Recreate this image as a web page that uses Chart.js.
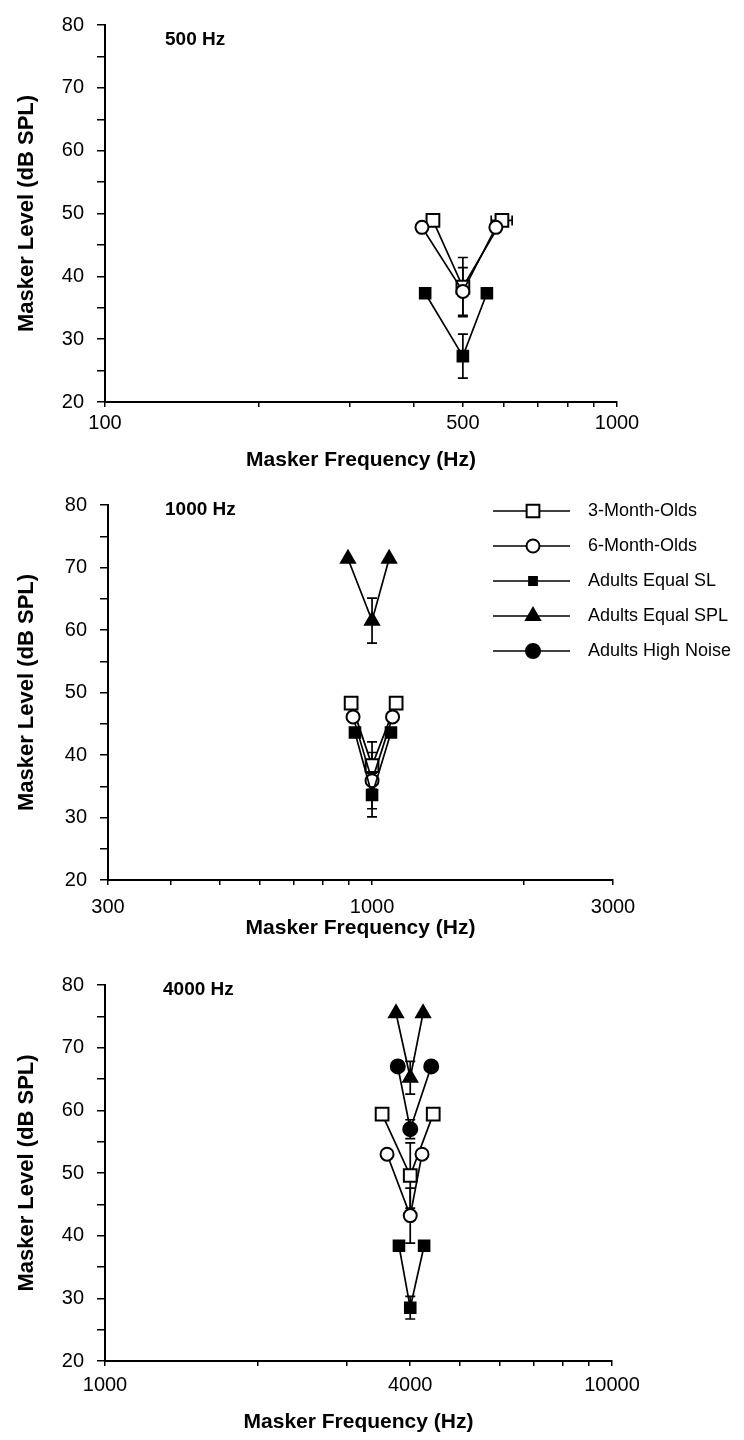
<!DOCTYPE html>
<html>
<head>
<meta charset="utf-8">
<title>Masker level vs masker frequency</title>
<script src="https://cdn.jsdelivr.net/npm/chart.js@4.4.1/dist/chart.umd.min.js"></script>
<style>
  body { margin: 0; background: #fff; }
  .panel { position: absolute; left: 0; width: 744px; height: 480px; }
</style>
</head>
<body>
<div class="panel" style="top:0px"><canvas id="p500" width="744" height="480"></canvas></div>
<div class="panel" style="top:480px"><canvas id="p1000" width="744" height="480"></canvas></div>
<div class="panel" style="top:960px"><canvas id="p4000" width="744" height="480"></canvas></div>
<script>
// series names (legend order)
const seriesNames = ['3-Month-Olds', '6-Month-Olds', 'Adults Equal SL', 'Adults Equal SPL', 'Adults High Noise'];

// y axis ticks, shared by all panels
const levelTicks = [20, 25, 30, 35, 40, 45, 50, 55, 60, 65, 70, 75, 80];
const levelLabels = [20, 30, 40, 50, 60, 70, 80];

// 500 Hz probe
const f500Ticks = [100, 200, 300, 400, 500, 600, 700, 800, 900, 1000];
const f500Labels = [100, 500, 1000];
const f500Infant3Freq = [437, 500, 596];
const f500Infant3Level = [48.9, 38.3, 48.9];
const f500Infant3Err = [0, 4.7, 0];
const f500Infant3FreqErr = [0, 0, 28];
const f500Infant6Freq = [416, 500, 580];
const f500Infant6Level = [47.8, 37.6, 47.8];
const f500Infant6Err = [0, 3.8, 0];
const f500AdultSLFreq = [422, 500, 557];
const f500AdultSLLevel = [37.3, 27.3, 37.3];
const f500AdultSLErr = [0, 3.5, 0];

// 1000 Hz probe
const f1000Ticks = [300, 400, 500, 600, 700, 800, 900, 1000, 2000, 3000];
const f1000Labels = [300, 1000, 3000];
const f1000Infant3Freq = [909, 1000, 1116];
const f1000Infant3Level = [48.3, 38.3, 48.3];
const f1000Infant3Err = [0, 3.8, 0];
const f1000Infant6Freq = [917, 1000, 1098];
const f1000Infant6Level = [46.1, 35.9, 46.1];
const f1000Infant6Err = [0, 4.5, 0];
const f1000AdultSLFreq = [925, 1000, 1090];
const f1000AdultSLLevel = [43.6, 33.6, 43.6];
const f1000AdultSLErr = [0, 3.5, 0];
const f1000AdultSPLFreq = [896, 1000, 1081];
const f1000AdultSPLLevel = [71.4, 61.5, 71.4];
const f1000AdultSPLErr = [0, 3.6, 0];

// 4000 Hz probe
const f4000Ticks = [1000, 2000, 3000, 4000, 5000, 6000, 7000, 8000, 9000, 10000];
const f4000Labels = [1000, 4000, 10000];
const f4000Infant3Freq = [3520, 4000, 4440];
const f4000Infant3Level = [59.4, 49.6, 59.4];
const f4000Infant3Err = [0, 5.2, 0];
const f4000Infant6Freq = [3600, 4000, 4220];
const f4000Infant6Level = [53.0, 43.2, 53.0];
const f4000Infant6Err = [0, 4.4, 0];
const f4000AdultSLFreq = [3800, 4000, 4260];
const f4000AdultSLLevel = [38.4, 28.5, 38.4];
const f4000AdultSLErr = [0, 1.8, 0];
const f4000AdultSPLFreq = [3750, 4000, 4240];
const f4000AdultSPLLevel = [75.5, 65.2, 75.5];
const f4000AdultSPLErr = [0, 2.6, 0];
const f4000AdultHNFreq = [3780, 4000, 4400];
const f4000AdultHNLevel = [67.0, 57.0, 67.0];
const f4000AdultHNErr = [0, 1.5, 0];

const FONT = '"Liberation Sans", Arial, Helvetica, sans-serif';

// marker look per series
const markerStyles = [
  { pointStyle: 'rect', radius: 9, fill: '#fff' },     // 3 month
  { pointStyle: 'circle', radius: 6.5, fill: '#fff' }, // 6 month
  { pointStyle: 'rect', radius: 7.5, fill: '#000' },   // adults SL
  { pointStyle: 'triangle', radius: 8, fill: '#000' }, // adults SPL
  { pointStyle: 'circle', radius: 7, fill: '#000' }    // adults high noise
];

function makeSet(idx, freqs, levels, errs, freqErrs) {
  const m = markerStyles[idx];
  return {
    label: seriesNames[idx],
    data: freqs.map((f, i) => ({ x: f, y: levels[i] })),
    errors: errs,
    freqErrors: freqErrs || [],
    borderColor: '#000',
    borderWidth: 1.7,
    pointStyle: m.pointStyle,
    pointRadius: m.radius,
    pointBackgroundColor: m.fill,
    pointBorderColor: '#000',
    pointBorderWidth: 2,
    tension: 0
  };
}

// error bars (vertical, plus the odd horizontal one), drawn under the markers
const errorBars = {
  id: 'errorBars',
  beforeDatasetsDraw(chart) {
    const ctx = chart.ctx;
    const x = chart.scales.x, y = chart.scales.y;
    ctx.save();
    ctx.strokeStyle = '#000';
    ctx.lineWidth = 1.7;
    chart.data.datasets.forEach(ds => {
      ds.data.forEach((p, i) => {
        const px = x.getPixelForValue(p.x);
        const py = y.getPixelForValue(p.y);
        const e = ds.errors[i];
        if (e) {
          const top = y.getPixelForValue(p.y + e);
          const bot = y.getPixelForValue(p.y - e);
          ctx.beginPath();
          ctx.moveTo(px, top); ctx.lineTo(px, bot);
          ctx.moveTo(px - 5, top); ctx.lineTo(px + 5, top);
          ctx.moveTo(px - 5, bot); ctx.lineTo(px + 5, bot);
          ctx.stroke();
        }
        const fe = ds.freqErrors[i];
        if (fe) {
          const lo = x.getPixelForValue(p.x - fe);
          const hi = x.getPixelForValue(p.x + fe);
          ctx.beginPath();
          ctx.moveTo(lo, py); ctx.lineTo(hi, py);
          ctx.moveTo(lo, py - 5); ctx.lineTo(lo, py + 5);
          ctx.moveTo(hi, py - 5); ctx.lineTo(hi, py + 5);
          ctx.stroke();
        }
      });
    });
    ctx.restore();
  }
};

// panel label, axis titles and the legend box
const decorations = {
  id: 'decorations',
  afterDraw(chart, args, opts) {
    const ctx = chart.ctx;
    const area = chart.chartArea;
    ctx.save();
    ctx.fillStyle = '#000';
    ctx.font = 'bold 19px ' + FONT;
    ctx.textAlign = 'left';
    ctx.textBaseline = 'middle';
    ctx.fillText(opts.label, opts.labelX, opts.labelY);

    ctx.font = 'bold 21px ' + FONT;
    ctx.textAlign = 'center';
    ctx.fillText('Masker Frequency (Hz)', (area.left + area.right) / 2, opts.xTitleY);

    ctx.font = 'bold 22px ' + FONT;
    ctx.translate(opts.yTitleX, (area.top + area.bottom) / 2);
    ctx.rotate(-Math.PI / 2);
    ctx.fillText('Masker Level (dB SPL)', 0, 0);
    ctx.restore();

    if (opts.legend) {
      ctx.save();
      ctx.font = '18px ' + FONT;
      ctx.textBaseline = 'middle';
      ctx.textAlign = 'left';
      seriesNames.forEach((name, i) => {
        const yy = opts.legend.y + i * opts.legend.gap;
        const m = markerStyles[i];
        ctx.strokeStyle = '#000';
        ctx.lineWidth = 1.7;
        ctx.beginPath();
        ctx.moveTo(opts.legend.x, yy);
        ctx.lineTo(opts.legend.x + 77, yy);
        ctx.stroke();
        ctx.fillStyle = m.fill;
        ctx.lineWidth = 2;
        const r = m.pointStyle === 'rect' && m.fill === '#000' ? 5.5 : m.radius;
        Chart.helpers.drawPoint(ctx, { pointStyle: m.pointStyle, radius: r, rotation: 0, borderWidth: 2 }, opts.legend.x + 40, yy);
        ctx.fillStyle = '#000';
        ctx.fillText(name, opts.legend.x + 95, yy);
      });
      ctx.restore();
    }
  }
};

function makeChart(id, p) {
  return new Chart(document.getElementById(id), {
    type: 'line',
    data: { datasets: p.datasets },
    options: {
      responsive: false,
      animation: false,
      layout: { padding: { left: 0, right: 744 - p.right, top: p.top, bottom: 0 } },
      scales: {
        x: {
          type: 'logarithmic',
          min: p.xTicks[0],
          max: p.xTicks[p.xTicks.length - 1],
          afterBuildTicks: s => { s.ticks = p.xTicks.map(v => ({ value: v })); },
          afterFit: s => { s.height = 480 - p.bottom; },
          ticks: {
            autoSkip: false, maxRotation: 0, color: '#000', padding: p.xPad,
            font: { family: FONT, size: 20 },
            callback: v => p.xLabels.includes(v) ? String(v) : ''
          },
          grid: { drawOnChartArea: false, tickLength: 5, color: '#000', lineWidth: 1.5 },
          border: { color: '#000', width: 2 }
        },
        y: {
          min: 20, max: 80,
          afterBuildTicks: s => { s.ticks = levelTicks.map(v => ({ value: v })); },
          afterFit: s => { s.width = p.left; },
          ticks: {
            color: '#000', padding: 13,
            font: { family: FONT, size: 20 },
            callback: v => levelLabels.includes(v) ? String(v) : ''
          },
          grid: { drawOnChartArea: false, tickLength: 8, color: '#000', lineWidth: 1.5 },
          border: { color: '#000', width: 2 }
        }
      },
      plugins: {
        legend: { display: false },
        tooltip: { enabled: false },
        decorations: p.deco
      }
    },
    plugins: [errorBars, decorations]
  });
}

// first dataset in each list is drawn on top
makeChart('p500', {
  top: 20, bottom: 402, left: 105, right: 617, xPad: 4,
  xTicks: f500Ticks, xLabels: f500Labels,
  datasets: [
    makeSet(1, f500Infant6Freq, f500Infant6Level, f500Infant6Err),
    makeSet(0, f500Infant3Freq, f500Infant3Level, f500Infant3Err, f500Infant3FreqErr),
    makeSet(2, f500AdultSLFreq, f500AdultSLLevel, f500AdultSLErr)
  ],
  deco: { label: '500 Hz', labelX: 165, labelY: 40, xTitleY: 460, yTitleX: 27 }
});

makeChart('p1000', {
  top: 17, bottom: 400, left: 108, right: 613, xPad: 10,
  xTicks: f1000Ticks, xLabels: f1000Labels,
  datasets: [
    makeSet(2, f1000AdultSLFreq, f1000AdultSLLevel, f1000AdultSLErr),
    makeSet(1, f1000Infant6Freq, f1000Infant6Level, f1000Infant6Err),
    makeSet(0, f1000Infant3Freq, f1000Infant3Level, f1000Infant3Err),
    makeSet(3, f1000AdultSPLFreq, f1000AdultSPLLevel, f1000AdultSPLErr)
  ],
  deco: { label: '1000 Hz', labelX: 165, labelY: 30, xTitleY: 448, yTitleX: 27,
          legend: { x: 493, y: 31, gap: 35 } }
});

makeChart('p4000', {
  top: 10, bottom: 401, left: 105, right: 612, xPad: 7,
  xTicks: f4000Ticks, xLabels: f4000Labels,
  datasets: [
    makeSet(2, f4000AdultSLFreq, f4000AdultSLLevel, f4000AdultSLErr),
    makeSet(1, f4000Infant6Freq, f4000Infant6Level, f4000Infant6Err),
    makeSet(0, f4000Infant3Freq, f4000Infant3Level, f4000Infant3Err),
    makeSet(4, f4000AdultHNFreq, f4000AdultHNLevel, f4000AdultHNErr),
    makeSet(3, f4000AdultSPLFreq, f4000AdultSPLLevel, f4000AdultSPLErr)
  ],
  deco: { label: '4000 Hz', labelX: 163, labelY: 30, xTitleY: 462, yTitleX: 27 }
});
</script>
</body>
</html>
